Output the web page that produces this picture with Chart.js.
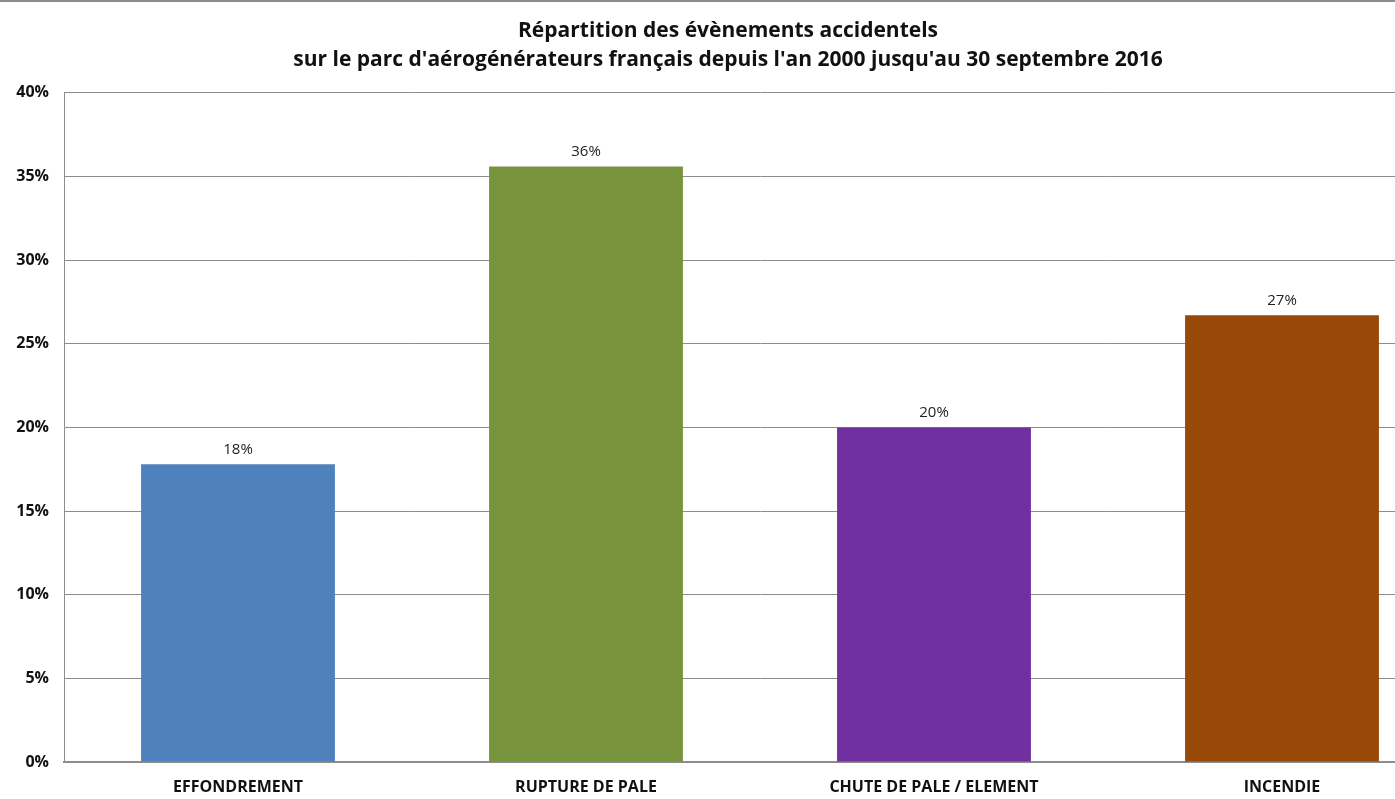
<!DOCTYPE html>
<html>
<head>
<meta charset="utf-8">
<script src="https://cdn.jsdelivr.net/npm/chart.js@4/dist/chart.umd.min.js"></script>
<style>
  html,body{margin:0;padding:0;background:#fff;overflow:hidden;}
  #wrap{position:relative;width:1480px;height:799px;}
  #topline{position:absolute;left:0;top:0;width:1480px;height:2px;background:#8c8c8c;}
</style>
</head>
<body>
<div id="wrap">
  <canvas id="c" width="1480" height="799"></canvas>
  <div id="topline"></div>
</div>
<script>
/* données (45 évènements) */
var categories=['EFFONDREMENT','RUPTURE DE PALE','CHUTE DE PALE / ELEMENT','INCENDIE'];
var values=[17.8,35.6,20.0,26.7];
var colors=['#4F81BD','#77933C','#7030A0','#984807'];
var yTicks=[0,5,10,15,20,25,30,35,40];
var titleLines=["Répartition des évènements accidentels","sur le parc d'aérogénérateurs français depuis l'an 2000 jusqu'au 30 septembre 2016"];

var FONT='"Open Sans", sans-serif';

/* petites étiquettes au-dessus des barres */
var valueLabels={
  id:'valueLabels',
  afterDatasetsDraw:function(chart){
    var ctx=chart.ctx,meta=chart.getDatasetMeta(0);
    ctx.save();
    ctx.font='15px '+FONT;ctx.fillStyle='#222';ctx.textAlign='center';ctx.textBaseline='bottom';
    meta.data.forEach(function(bar,i){
      ctx.fillText(Math.round(values[i])+'%',bar.x,bar.y-7);
    });
    ctx.restore();
  }
};

new Chart(document.getElementById('c'),{
  type:'bar',
  data:{labels:categories,datasets:[{data:values,backgroundColor:colors,borderWidth:0,categoryPercentage:1,barPercentage:0.557}]},
  options:{
    responsive:false,animation:false,
    layout:{padding:{left:0,right:24,top:0,bottom:0}},
    plugins:{
      legend:{display:false},tooltip:{enabled:false},
      title:{display:true,text:titleLines,color:'#111',font:{family:FONT,size:21,weight:'bold',lineHeight:1.4},padding:{top:16,bottom:18}}
    },
    scales:{
      x:{
        grid:{display:false,drawTicks:false},
        border:{color:'#8c8c8c',width:2},
        ticks:{color:'#111',font:{family:FONT,size:16,weight:'bold'},padding:16,maxRotation:0,autoSkip:false},
        afterFit:function(s){s.height=37;}
      },
      y:{
        min:0,max:40,
        afterBuildTicks:function(s){s.ticks=yTicks.map(function(v){return{value:v};});},
        grid:{color:'#8c8c8c',lineWidth:1,drawTicks:false},
        border:{color:'#8c8c8c',width:1},
        ticks:{color:'#111',font:{family:FONT,size:16,weight:'bold'},padding:15,callback:function(v){return v+'%';}},
        afterFit:function(s){s.width=64;}
      }
    }
  },
  plugins:[valueLabels]
});
</script>
</body>
</html>
